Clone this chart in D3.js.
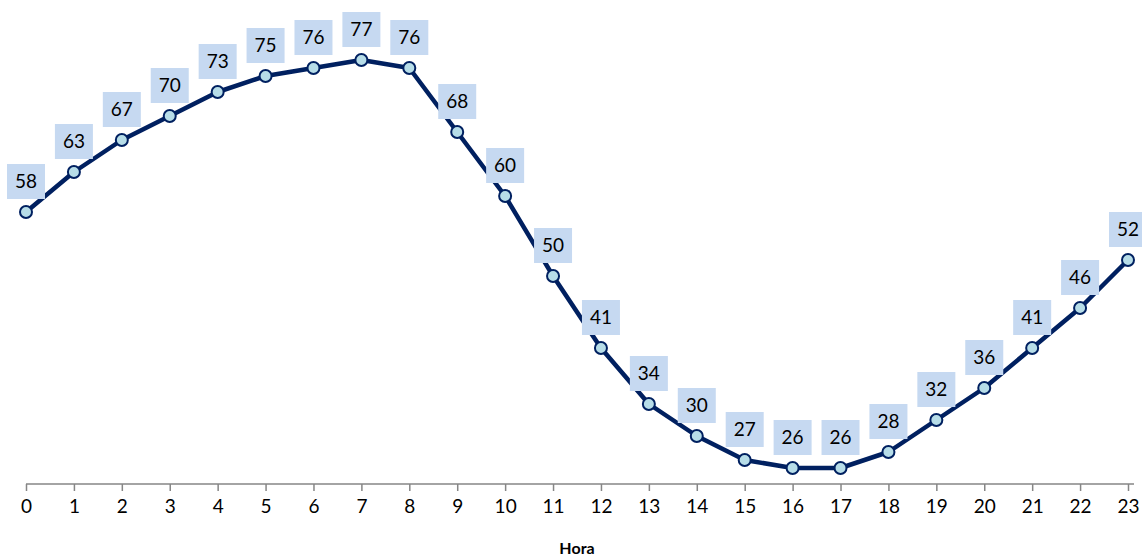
<!DOCTYPE html>
<html><head><meta charset="utf-8">
<script src="https://cdn.jsdelivr.net/npm/d3@7"></script>
<style>body{margin:0;background:#fff}svg{display:block}</style>
</head><body>
<svg id="c" width="1142" height="560"></svg>
<script>
const hours = [0,1,2,3,4,5,6,7,8,9,10,11,12,13,14,15,16,17,18,19,20,21,22,23];
const values = [58,63,67,70,73,75,76,77,76,68,60,50,41,34,30,27,26,26,28,32,36,41,46,52];
const xTitle = "Hora";

const svg = d3.select("#c");
const x = d3.scaleLinear().domain([0,23]).range([26,1128]);
const y = d3.scaleLinear().domain([24,84]).range([484,4]);
const font = "Lato, 'Open Sans', sans-serif";

const axis = d3.axisBottom(x).tickValues(hours).tickFormat(d3.format("d")).tickSize(7).tickSizeOuter(0).tickPadding(9);
const g = svg.append("g").attr("transform","translate(0,484)").call(axis);
g.select(".domain").attr("stroke","#868686").attr("stroke-width",1.5).attr("d","M26,0H1134");
g.selectAll(".tick line").attr("stroke","#868686").attr("stroke-width",1.5);
g.selectAll(".tick text").attr("fill","#000").style("font-family",font).style("font-size","19px");

svg.append("text").attr("x",577).attr("y",554).attr("text-anchor","middle")
  .style("font-family",font).style("font-size","16px").style("font-weight","bold").text(xTitle);

const line = d3.line().x((d,i)=>x(hours[i])).y(d=>y(d));
svg.append("path").datum(values).attr("d",line).attr("fill","none")
  .attr("stroke","#002060").attr("stroke-width",4.5).attr("stroke-linejoin","round");

svg.selectAll("circle").data(values).join("circle")
  .attr("cx",(d,i)=>x(hours[i])).attr("cy",d=>y(d)).attr("r",6)
  .attr("fill","#b7dde8").attr("stroke","#002060").attr("stroke-width",2);

const lg = svg.selectAll("g.lab").data(values).join("g").attr("class","lab");
lg.append("rect").attr("x",(d,i)=>x(hours[i])-19).attr("y",d=>y(d)-48)
  .attr("width",38).attr("height",35).attr("fill","#c6d9f1");
lg.append("text").attr("x",(d,i)=>x(hours[i])).attr("y",d=>y(d)-24)
  .attr("text-anchor","middle").style("font-family",font).style("font-size","19px")
  .attr("fill","#000").text(d=>d);
</script>
</body></html>
